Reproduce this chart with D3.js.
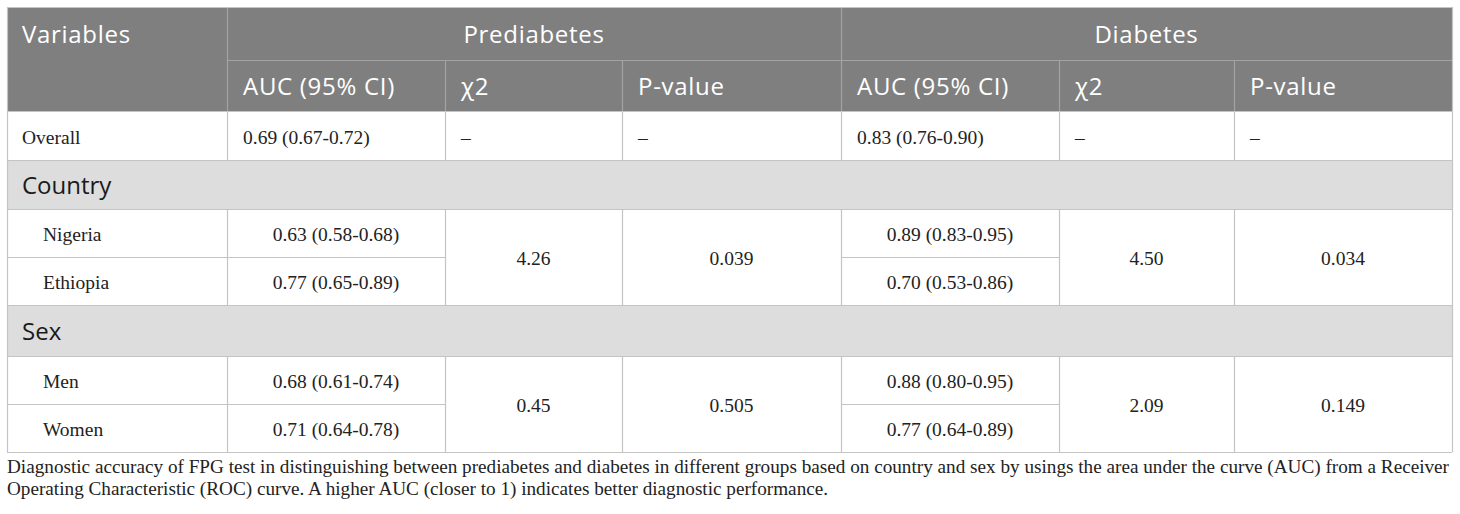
<!DOCTYPE html>
<html lang="en">
<head>
	<meta charset="UTF-8"/>
	<title>FPG diagnostic accuracy table</title>
	<script src="https://d3js.org/d3.v7.min.js"></script>
	<style>
		body { margin: 0; background: #ffffff; }
		.head { font-family: "Open Sans", "Noto Sans", sans-serif; font-size: 24px; letter-spacing: 0.7px; fill: #ffffff; }
		.group { font-family: "Open Sans", "Noto Sans", sans-serif; font-size: 24px; fill: #1a1a1a; }
		.cell { font-family: "Liberation Serif", "DejaVu Serif", serif; font-size: 19.5px; fill: #222222; }
		.caption { font-family: "Liberation Serif", "DejaVu Serif", serif; font-size: 19.2px; fill: #222222; }
	</style>
</head>
<body>
<script>
	// ----- data -----
	var topHeaders = ["Variables", "Prediabetes", "Diabetes"];
	var subHeaders = ["AUC (95% CI)", "\u03C72", "P-value"];

	var overallLabel = "Overall";
	var overallPre = ["0.69 (0.67-0.72)", "\u2013", "\u2013"];
	var overallDia = ["0.83 (0.76-0.90)", "\u2013", "\u2013"];

	var groupNames = ["Country", "Sex"];
	var categories = ["Nigeria", "Ethiopia", "Men", "Women"];
	var preAUC = ["0.63 (0.58-0.68)", "0.77 (0.65-0.89)", "0.68 (0.61-0.74)", "0.71 (0.64-0.78)"];
	var diaAUC = ["0.89 (0.83-0.95)", "0.70 (0.53-0.86)", "0.88 (0.80-0.95)", "0.77 (0.64-0.89)"];
	var preChi = ["4.26", "0.45"];
	var prePval = ["0.039", "0.505"];
	var diaChi = ["4.50", "2.09"];
	var diaPval = ["0.034", "0.149"];

	var captionLines = [
		"Diagnostic accuracy of FPG test in distinguishing between prediabetes and diabetes in different groups based on country and sex by usings the area under the curve (AUC) from a Receiver",
		"Operating Characteristic (ROC) curve. A higher AUC (closer to 1) indicates better diagnostic performance."
	];

	// ----- layout -----
	var w = 1460, h = 514;
	var colEdges = [7, 227, 445, 622, 841, 1059, 1234, 1452];
	var rowEdges = [7, 60, 111, 160, 209, 257, 305, 356, 404, 452];

	var xCol = d3.scaleOrdinal().domain(d3.range(colEdges.length)).range(colEdges);
	var yRow = d3.scaleOrdinal().domain(d3.range(rowEdges.length)).range(rowEdges);

	var headFill = "#7f7f7f", headLine = "#a3a3a3";
	var groupFill = "#dddddd", bodyLine = "#c4c4c4";

	var svg = d3.select("body")
				.append("svg")
				.attr("width", w)
				.attr("height", h);

	function rect(c0, c1, r0, r1, fill) {
		svg.append("rect")
			.attr("x", xCol(c0)).attr("y", yRow(r0))
			.attr("width", xCol(c1) - xCol(c0))
			.attr("height", yRow(r1) - yRow(r0))
			.attr("fill", fill);
	}
	function hline(c0, c1, r, col) {
		svg.append("line")
			.attr("x1", xCol(c0)).attr("x2", xCol(c1))
			.attr("y1", yRow(r) + 0.5).attr("y2", yRow(r) + 0.5)
			.attr("stroke", col).attr("stroke-width", 1.2);
	}
	function vline(c, r0, r1, col) {
		svg.append("line")
			.attr("x1", xCol(c) + 0.5).attr("x2", xCol(c) + 0.5)
			.attr("y1", yRow(r0)).attr("y2", yRow(r1))
			.attr("stroke", col).attr("stroke-width", 1.2);
	}
	function label(txt, x, r0, r1, cls, anchor, dy) {
		return svg.append("text")
			.attr("class", cls)
			.attr("x", x)
			.attr("y", (yRow(r0) + yRow(r1)) / 2 + dy)
			.attr("dominant-baseline", "central")
			.attr("text-anchor", anchor)
			.text(txt);
	}

	// ----- backgrounds -----
	rect(0, 7, 0, 2, headFill);
	rect(0, 7, 2, 3, "#ffffff");
	rect(0, 7, 3, 4, groupFill);
	rect(0, 7, 4, 6, "#ffffff");
	rect(0, 7, 6, 7, groupFill);
	rect(0, 7, 7, 9, "#ffffff");

	// ----- grid lines -----
	// header
	hline(1, 7, 1, headLine);
	vline(1, 0, 2, headLine);
	vline(4, 0, 2, headLine);
	[2, 3, 5, 6].forEach(function(c){ vline(c, 1, 2, headLine); });
	// body rows
	[2, 3, 4, 6, 7, 9].forEach(function(r){ hline(0, 7, r, bodyLine); });
	hline(0, 2, 5, bodyLine); hline(4, 5, 5, bodyLine);
	hline(0, 2, 8, bodyLine); hline(4, 5, 8, bodyLine);
	// overall row verticals
	d3.range(1, 7).forEach(function(c){ vline(c, 2, 3, bodyLine); });
	// subgroup verticals
	d3.range(1, 7).forEach(function(c){ vline(c, 4, 6, bodyLine); vline(c, 7, 9, bodyLine); });
	// outer border
	vline(0, 0, 9, bodyLine); vline(7, 0, 9, bodyLine);
	hline(0, 7, 0, bodyLine);

	// ----- header text -----
	label(topHeaders[0], xCol(0) + 15, 0, 1, "head", "start", 0);
	label(topHeaders[1], (xCol(1) + xCol(4)) / 2, 0, 1, "head", "middle", 0);
	label(topHeaders[2], (xCol(4) + xCol(7)) / 2, 0, 1, "head", "middle", 0);
	subHeaders.concat(subHeaders).forEach(function(t, i){
		label(t, xCol(i + 1) + 16, 1, 2, "head", "start", 0);
	});

	// ----- overall row -----
	label(overallLabel, xCol(0) + 15, 2, 3, "cell", "start", 1.5);
	overallPre.concat(overallDia).forEach(function(t, i){
		label(t, xCol(i + 1) + 16, 2, 3, "cell", "start", 1.5)
			.attr("fill", t === "\u2013" ? "#777777" : null);
	});

	// ----- groups -----
	groupNames.forEach(function(g, gi){
		var r = 3 + gi * 3;
		label(g, xCol(0) + 15, r, r + 1, "group", "start", 0);
		[0, 1].forEach(function(k){
			var ci = gi * 2 + k;
			var rr = r + 1 + k;
			label(categories[ci], xCol(0) + 36, rr, rr + 1, "cell", "start", 1.5);
			label(preAUC[ci], (xCol(1) + xCol(2)) / 2, rr, rr + 1, "cell", "middle", 1.5);
			label(diaAUC[ci], (xCol(4) + xCol(5)) / 2, rr, rr + 1, "cell", "middle", 1.5);
		});
		label(preChi[gi], (xCol(2) + xCol(3)) / 2, r + 1, r + 3, "cell", "middle", 1.5);
		label(prePval[gi], (xCol(3) + xCol(4)) / 2, r + 1, r + 3, "cell", "middle", 1.5);
		label(diaChi[gi], (xCol(5) + xCol(6)) / 2, r + 1, r + 3, "cell", "middle", 1.5);
		label(diaPval[gi], (xCol(6) + xCol(7)) / 2, r + 1, r + 3, "cell", "middle", 1.5);
	});

	// ----- caption -----
	svg.selectAll("text.caption")
		.data(captionLines)
		.enter()
		.append("text")
		.attr("class", "caption")
		.attr("x", 7)
		.attr("y", function(d, i){ return 473 + i * 22; })
		.text(function(d){ return d; });
</script>
</body>
</html>
